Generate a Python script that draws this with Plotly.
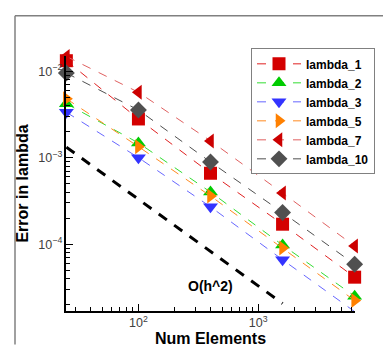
import math
import plotly.graph_objects as go

num_elements = [25, 100, 400, 1600, 6400]
lambda_1 = [0.0132, 0.0028, 0.00066, 0.00017, 0.0000415]
lambda_2 = [0.0042, 0.00148, 0.0004, 0.0000975, 0.000025]
lambda_3 = [0.00335, 0.001, 0.00027, 0.000066, 0.0000166]
lambda_5 = [0.0048, 0.00134, 0.00036, 0.00009, 0.0000223]
lambda_7 = [0.0148, 0.0057, 0.00156, 0.00039, 0.000095]
lambda_10 = [0.0095, 0.00355, 0.00089, 0.000232, 0.0000585]
ref_x = [25, 1600]
ref_y = [0.00132, 0.0000206]

series = [
    ("lambda_1", lambda_1, "square", "#d40000", "#e02020"),
    ("lambda_2", lambda_2, "triangle-up", "#00cc00", "#33dd33"),
    ("lambda_3", lambda_3, "triangle-down", "#3333ff", "#6666ff"),
    ("lambda_5", lambda_5, "triangle-right", "#ff8000", "#ff8a20"),
    ("lambda_7", lambda_7, "triangle-left", "#cc0000", "#e06060"),
    ("lambda_10", lambda_10, "diamond", "#505050", "#505050"),
]

FONT = "Liberation Sans, Arial, sans-serif"
fig = go.Figure()
for name, ys, sym, mcol, lcol in series:
    fig.add_trace(go.Scatter(
        x=num_elements, y=ys, name=name, mode="lines+markers",
        line=dict(color=lcol, width=1, dash="9px,9px"),
        marker=dict(symbol=sym, size=13, color=mcol, line=dict(width=0)),
        cliponaxis=False,
    ))

fig.add_trace(go.Scatter(
    x=ref_x, y=ref_y, mode="lines", showlegend=False,
    line=dict(color="black", width=3, dash="10px,9px"),
))

fig.add_annotation(x=2.60, y=-4.48, xref="x", yref="y", text="O(h^2)",
                   showarrow=False, font=dict(family=FONT, size=14, color="black", weight="bold"))

L, R, T, B = 58, 347, 48, 314
pw, ph = R - L, B - T
fig.add_shape(type="line", xref="paper", yref="paper",
              x0=(7 - L) / pw, x1=(391 - L) / pw, y0=(B - 6) / ph, y1=(B - 6) / ph,
              line=dict(color="#808080", width=1.5))
fig.add_shape(type="line", xref="paper", yref="paper",
              x0=(7 - L) / pw, x1=(7 - L) / pw, y0=(B - 6) / ph, y1=(B - 349) / ph,
              line=dict(color="#808080", width=1.5))

xr = [math.log10(num_elements[0]) - 0.003, math.log10(num_elements[-1]) + 0.003]

fig.update_layout(
    width=391, height=349,
    margin=dict(l=L, r=391 - R, t=T, b=349 - B),
    paper_bgcolor="white", plot_bgcolor="white",
    font=dict(family=FONT),
    showlegend=True,
    legend=dict(x=(243 - L) / pw, y=(B - 40) / ph, xanchor="left", yanchor="top",
                bgcolor="white", bordercolor="#808080", borderwidth=1,
                font=dict(family=FONT, size=12, color="black", weight="bold"),
                itemwidth=44, tracegroupgap=0),
    xaxis=dict(type="log", range=xr, dtick=1, exponentformat="power",
               showline=True, linecolor="black", linewidth=1.5, mirror=False,
               ticks="inside", ticklen=7, tickcolor="black", showgrid=False, zeroline=False,
               minor=dict(ticks="inside", ticklen=4, tickcolor="black", showgrid=False),
               tickfont=dict(family=FONT, size=10, color="#404040"),
               title=dict(text="Num Elements", standoff=4,
                          font=dict(family=FONT, size=16, color="black", weight="bold"))),
    yaxis=dict(type="log", range=[-4.773, -1.825], dtick=1, exponentformat="power",
               showline=True, linecolor="black", linewidth=1.5, mirror=False,
               ticks="inside", ticklen=7, tickcolor="black", showgrid=False, zeroline=False,
               minor=dict(ticks="inside", ticklen=4, tickcolor="black", showgrid=False),
               tickfont=dict(family=FONT, size=10, color="#404040"),
               title=dict(text="Error in lambda", standoff=6,
                          font=dict(family=FONT, size=16, color="black", weight="bold"))),
)

fig.write_html("out.html")
